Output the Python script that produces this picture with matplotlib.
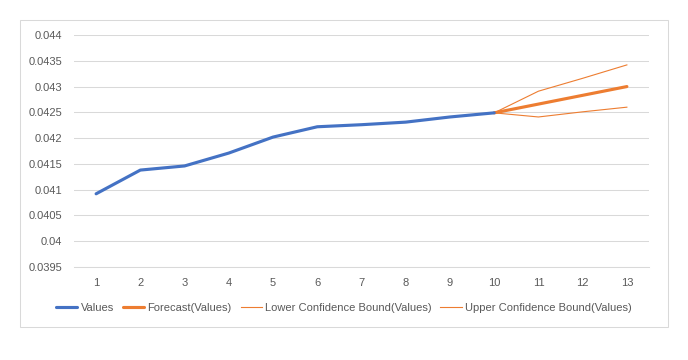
import numpy as np
import matplotlib.pyplot as plt
from matplotlib.patches import Rectangle

# data
periods = list(range(1, 14))
values = [0.04092, 0.04138, 0.04146, 0.04171, 0.04202, 0.04222, 0.04226, 0.04231, 0.04241, 0.04249]
fc_periods = [10, 11, 12, 13]
forecast = [0.04249, 0.04266, 0.04283, 0.04300]
lower = [0.04249, 0.04241, 0.04251, 0.04260]
upper = [0.04249, 0.04291, 0.04316, 0.04342]
yticks = [0.0395, 0.04, 0.0405, 0.041, 0.0415, 0.042, 0.0425, 0.043, 0.0435, 0.044]
ytick_labels = ['0.0395', '0.04', '0.0405', '0.041', '0.0415', '0.042', '0.0425', '0.043', '0.0435', '0.044']

blue = '#4472C4'
orange = '#ED7D31'
txt = '#595959'
grid = '#D9D9D9'

plt.rcParams['font.family'] = ['Liberation Sans', 'DejaVu Sans']

fig = plt.figure(figsize=(6.88, 3.60), dpi=100)
fig.patches.append(Rectangle((20 / 688, 1 - 327 / 360), 648 / 688, 307 / 360,
                             transform=fig.transFigure, fill=False,
                             edgecolor=grid, linewidth=0.75))

ax = fig.add_axes([74 / 688, 1 - 267 / 360, 575 / 688, 232 / 360])

ax.plot(periods[:len(values)], values, color=blue, linewidth=2.25,
        solid_capstyle='round', solid_joinstyle='round', label='Values', zorder=4)
ax.plot(fc_periods, forecast, color=orange, linewidth=2.25,
        solid_capstyle='round', label='Forecast(Values)', zorder=3)
ax.plot(fc_periods, lower, color=orange, linewidth=0.8,
        label='Lower Confidence Bound(Values)', zorder=3)
ax.plot(fc_periods, upper, color=orange, linewidth=0.8,
        label='Upper Confidence Bound(Values)', zorder=3)

ax.set_xlim(0.5, 13.5)
ax.set_ylim(0.0395, 0.044)
ax.set_xticks(periods)
ax.set_xticklabels([str(p) for p in periods])
ax.set_yticks(yticks)
ax.set_yticklabels(ytick_labels)
ax.tick_params(axis='both', length=0, labelsize=8, labelcolor=txt)
ax.tick_params(axis='y', pad=8.5)
ax.tick_params(axis='x', pad=8)
ax.grid(axis='y', color=grid, linewidth=0.75)
ax.set_axisbelow(True)
for s in ['top', 'right', 'left']:
    ax.spines[s].set_visible(False)
ax.spines['bottom'].set_color(grid)
ax.spines['bottom'].set_linewidth(0.75)

fig.legend(loc='center', bbox_to_anchor=(0.5, 1 - 308 / 360), ncol=4,
           frameon=False, fontsize=8, labelcolor=txt, handlelength=1.9,
           handletextpad=0.3, columnspacing=0.8)

fig.savefig('out.png', dpi=100)
